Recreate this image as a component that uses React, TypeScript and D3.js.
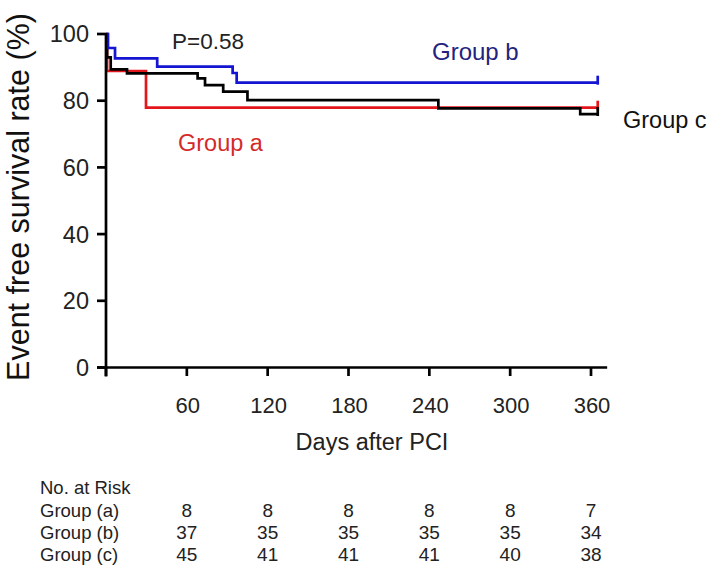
import React from 'react';
import * as d3 from 'd3';

// Kaplan–Meier step data (days, event free survival %)
const groupADays = [0, 0.8, 29.7, 365];
const groupAValues = [100, 88.9, 77.9, 77.9];

const groupBDays = [0, 1.5, 6.7, 38, 94, 97, 365];
const groupBValues = [100, 95.8, 92.7, 90.2, 88.3, 85.4, 85.4];

const groupCDays = [0, 0.8, 3.5, 15.6, 68, 73.5, 87, 105, 246.7, 352, 365];
const groupCValues = [100, 93, 89.4, 88.2, 86.7, 84.7, 82.7, 80.2, 77.7, 76.0, 76.0];

const xTicks = [0, 60, 120, 180, 240, 300, 360];
const yTicks = [0, 20, 40, 60, 80, 100];

const riskDays = [60, 120, 180, 240, 300, 360];
const riskLabels = ['Group (a)', 'Group (b)', 'Group (c)'];
const riskA = [8, 8, 8, 8, 8, 7];
const riskB = [37, 35, 35, 35, 35, 34];
const riskC = [45, 41, 41, 41, 40, 38];

const FONT = 'Liberation Sans, Arial, Helvetica, sans-serif';

export default function App() {
  const x = d3.scaleLinear().domain([0, 360]).range([106, 591]);
  const y = d3.scaleLinear().domain([0, 100]).range([367.5, 34]);

  const line = d3
    .line<[number, number]>()
    .x((d) => x(d[0]))
    .y((d) => y(d[1]))
    .curve(d3.curveStepAfter);

  const series = [
    { days: groupADays, values: groupAValues, color: '#e3161b' },
    { days: groupCDays, values: groupCValues, color: '#000000' },
    { days: groupBDays, values: groupBValues, color: '#1414d2' },
  ];

  const riskRows = [riskA, riskB, riskC];
  const rowBaselines = [517, 539, 561];

  return (
    <svg
      width={712}
      height={570}
      style={{ position: 'absolute', left: 0, top: 0, background: '#fff' }}
      fontFamily={FONT}
    >
      <rect width={712} height={570} fill="#fff" />

      {/* curves */}
      {series.map((s, i) => {
        const pts: [number, number][] = s.days.map((d, j) => [d, s.values[j]]);
        const last = pts[pts.length - 1];
        return (
          <g key={i}>
            <path d={line(pts) || ''} fill="none" stroke={s.color} strokeWidth={2.7} />
            <line
              x1={x(last[0])}
              x2={x(last[0])}
              y1={y(last[1]) - 7}
              y2={y(last[1]) + 2}
              stroke={s.color}
              strokeWidth={2.7}
            />
          </g>
        );
      })}

      {/* y axis */}
      <line x1={x(0)} x2={x(0)} y1={y(100) - 1} y2={y(0) + 9} stroke="#000" strokeWidth={2.7} />
      {yTicks.map((t) => (
        <g key={t}>
          <line x1={x(0) - 9} x2={x(0)} y1={y(t)} y2={y(t)} stroke="#000" strokeWidth={2.7} />
          <text x={89} y={y(t)} dy="0.36em" textAnchor="end" fontSize={23.5} fill="#222">
            {t}
          </text>
        </g>
      ))}

      {/* x axis */}
      <line x1={x(0) - 9} x2={x(372)} y1={y(0)} y2={y(0)} stroke="#000" strokeWidth={2.7} />
      {xTicks.map((t) => (
        <g key={t}>
          <line x1={x(t)} x2={x(t)} y1={y(0)} y2={y(0) + 8.5} stroke="#000" strokeWidth={2.7} />
          {t > 0 && (
            <text x={x(t) + 1} y={413} textAnchor="middle" fontSize={22} fill="#222">
              {t}
            </text>
          )}
        </g>
      ))}

      {/* axis titles */}
      <text x={372} y={450} textAnchor="middle" fontSize={23.5} fill="#222">
        Days after PCI
      </text>
      <text
        transform="translate(29,197) rotate(-90)"
        textAnchor="middle"
        fontSize={30.5}
        fill="#111"
      >
        Event free survival rate (%)
      </text>

      {/* annotations */}
      <text x={172} y={49} fontSize={22.5} fill="#222">P=0.58</text>
      <text x={432} y={60} fontSize={24} fill="#23237f">Group b</text>
      <text x={178} y={151} fontSize={23.5} fill="#d42a2a">Group a</text>
      <text x={623} y={128} fontSize={23.5} fill="#111">Group c</text>

      {/* number at risk */}
      <text x={40} y={494} fontSize={18.5} fill="#222">No. at Risk</text>
      {riskLabels.map((lab, r) => (
        <g key={lab}>
          <text x={40} y={rowBaselines[r]} fontSize={18.5} fill="#222">
            {lab}
          </text>
          {riskRows[r].map((v, c) => (
            <text
              key={c}
              x={x(riskDays[c])}
              y={rowBaselines[r]}
              textAnchor="middle"
              fontSize={19}
              fill="#222"
            >
              {v}
            </text>
          ))}
        </g>
      ))}
    </svg>
  );
}
